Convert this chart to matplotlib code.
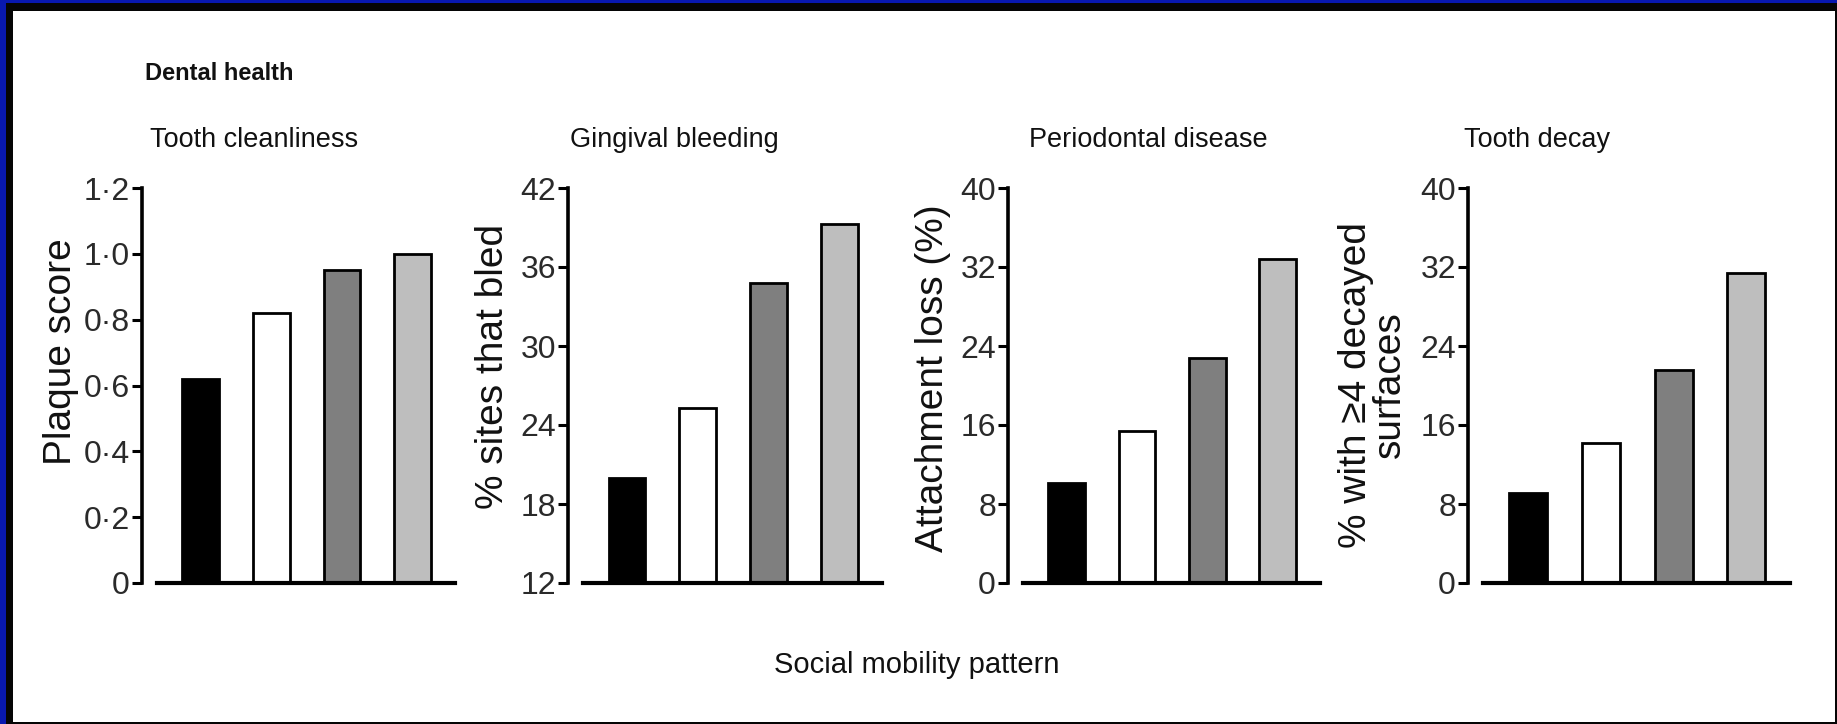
import numpy as np
import matplotlib
matplotlib.use("Agg")
from matplotlib import pyplot as plt
from matplotlib.patches import Rectangle
from matplotlib.ticker import FuncFormatter

# values, one bar per social mobility pattern
plaque_score = [0.62, 0.82, 0.95, 1.00]
sites_bled = [20.0, 25.3, 34.8, 39.3]
attachment_loss = [10.1, 15.4, 22.8, 32.8]
decayed_surfaces = [9.1, 14.2, 21.6, 31.4]

titles = ["Tooth cleanliness", "Gingival bleeding", "Periodontal disease", "Tooth decay"]
ylabels = ["Plaque score", "% sites that bled", "Attachment loss (%)",
           "% with \u22654 decayed\nsurfaces"]
yticks = [[0, 0.2, 0.4, 0.6, 0.8, 1.0, 1.2],
          [12, 18, 24, 30, 36, 42],
          [0, 8, 16, 24, 32, 40],
          [0, 8, 16, 24, 32, 40]]
bar_colors = ["#000000", "#ffffff", "#7f7f7f", "#bebebe"]

FONT = ["Liberation Sans", "DejaVu Sans"]
plt.rcParams["font.family"] = FONT

W, H = 1837, 724
fig = plt.figure(figsize=(W / 100, H / 100), dpi=100, facecolor="#0818b0")

# frame: blue outside, black band, white page
fig.add_artist(Rectangle((6 / W, 0), 1 - 6 / W, (H - 3) / H, transform=fig.transFigure,
                         facecolor="#050505", edgecolor="none", zorder=-10))
fig.add_artist(Rectangle((13 / W, 2 / H), (1835 - 13) / W, (722 - 11) / H,
                         transform=fig.transFigure, facecolor="white",
                         edgecolor="none", zorder=-9))

# layout in reference pixels
extents = [(157, 455), (583, 882), (1023, 1320), (1483, 1790)]
title_x = [150, 570, 1029, 1464]
label_x = [61, 493, 933, 1373]
label_y = [352, 366, 378, 385]
y_top, y_bot = 188, 583


def make_fmt(decimal):
    def fmt(v, pos):
        if v == 0:
            return "0"
        if decimal:
            return f"{v:.1f}".replace(".", "\u00b7")
        return f"{int(round(v))}"
    return fmt


data = [plaque_score, sites_bled, attachment_loss, decayed_surfaces]

for i, values in enumerate(data):
    x0, x1 = extents[i]
    ax = fig.add_axes([x0 / W, (H - y_bot) / H, (x1 - x0) / W, (y_bot - y_top) / H])
    ax.patch.set_visible(False)

    x = np.arange(len(values))
    ax.bar(x, values, width=0.52, color=bar_colors, edgecolor="black", linewidth=2)

    ax.set_xlim(-0.62, 3.6)
    ax.set_ylim(yticks[i][0], yticks[i][-1])
    ax.set_yticks(yticks[i])
    decimal = any(not float(t).is_integer() for t in yticks[i])
    ax.yaxis.set_major_formatter(FuncFormatter(make_fmt(decimal)))

    ax.spines["top"].set_visible(False)
    ax.spines["right"].set_visible(False)
    ax.spines["left"].set_position(("outward", 11))
    ax.spines["left"].set_linewidth(2.6)
    ax.spines["bottom"].set_linewidth(3)
    ax.set_xticks([])
    ax.tick_params(axis="y", length=7, width=2.2, pad=1.5, labelsize=23,
                   labelcolor="#2a2a2a")

    ax.set_ylabel(ylabels[i], fontsize=28, va="center", linespacing=0.95,
                  color="#111111")
    ax.yaxis.set_label_coords((label_x[i] - x0) / (x1 - x0),
                              (y_bot - label_y[i]) / (y_bot - y_top))

    fig.text(title_x[i] / W, (H - 147) / H, titles[i], fontsize=19.5,
             ha="left", va="baseline", color="#111111")

fig.text(145 / W, (H - 80) / H, "Dental health", fontsize=17, fontweight="bold",
         ha="left", va="baseline", color="#111111")
fig.text(917 / W, (H - 673) / H, "Social mobility pattern", fontsize=21,
         ha="center", va="baseline", color="#111111")

fig.savefig("out.png", dpi=100, facecolor=fig.get_facecolor())
